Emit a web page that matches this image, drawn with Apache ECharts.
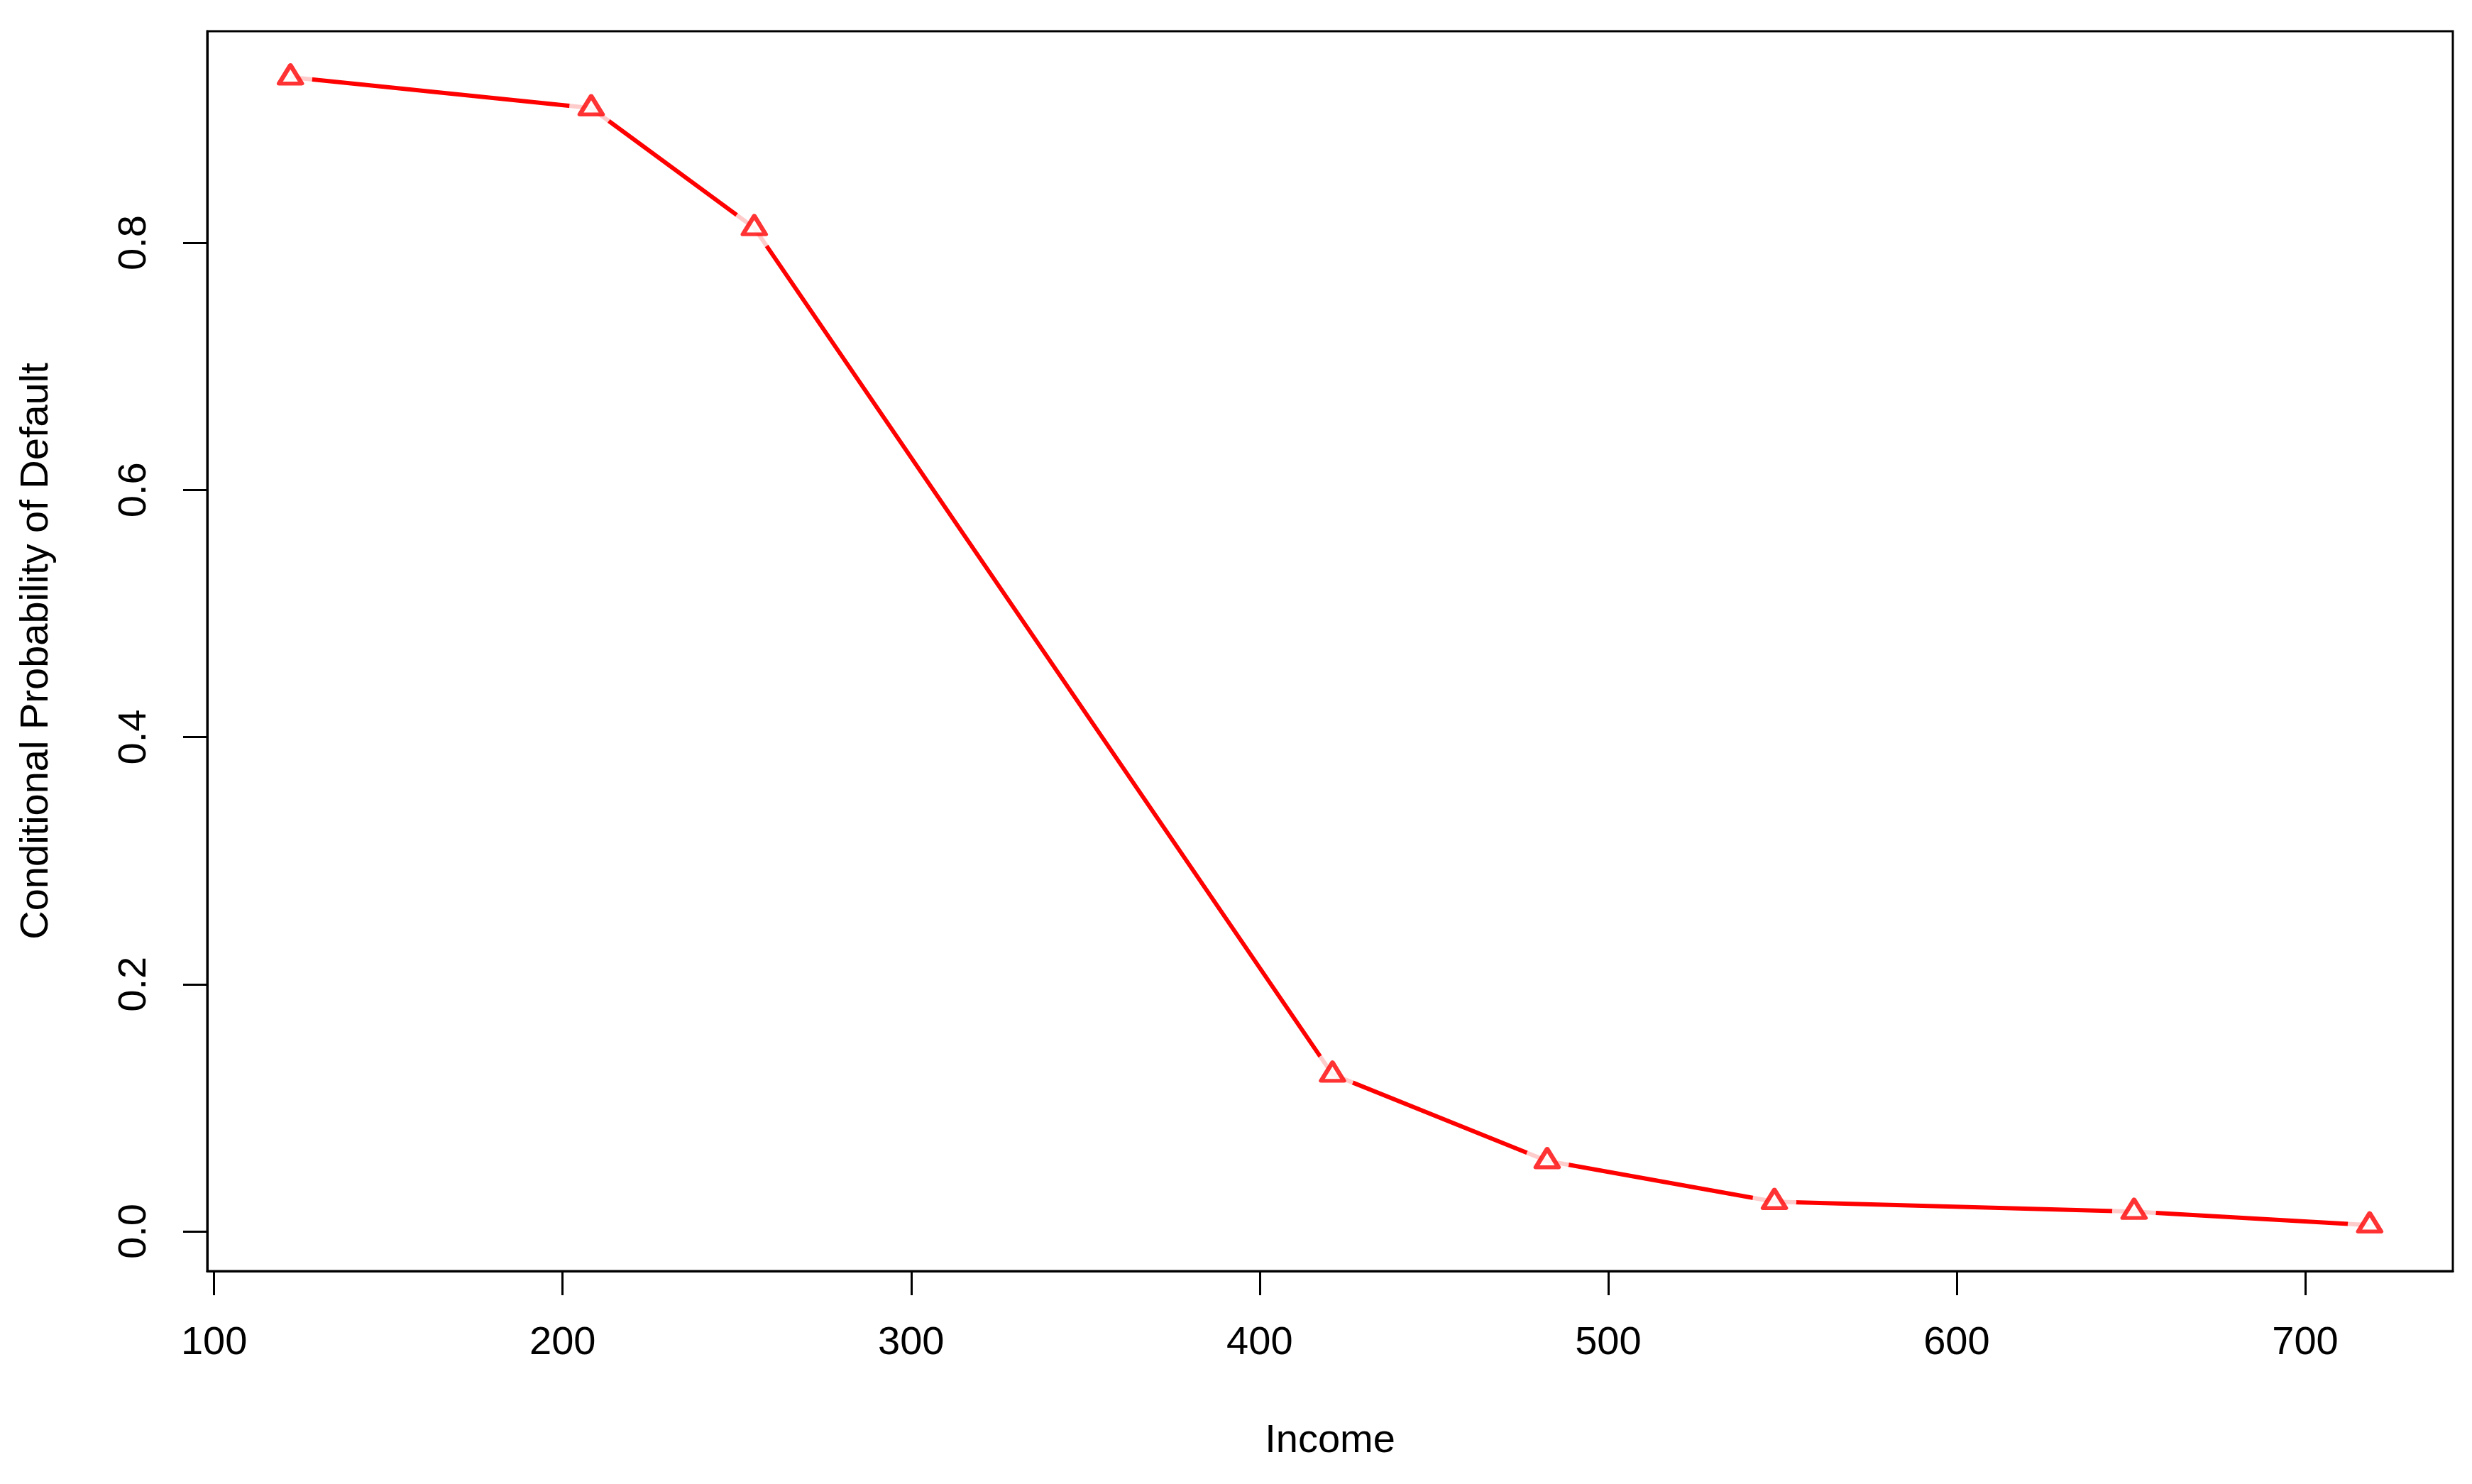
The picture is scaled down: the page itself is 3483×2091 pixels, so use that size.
<!DOCTYPE html>
<html>
<head>
<meta charset="utf-8">
<title>Conditional Probability of Default</title>
<script src="https://cdn.jsdelivr.net/npm/echarts@6/dist/echarts.min.js"></script>
<style>
  html, body { margin: 0; padding: 0; background: #fff; }
  #chart { width: 3483px; height: 2091px; }
</style>
</head>
<body>
<div id="chart"></div>
<script>
// values
const incomeValues = [121.9, 208.2, 255.0, 420.9, 482.5, 547.7, 650.9, 718.5];
const defaultProb = [0.934, 0.909, 0.812, 0.127, 0.057, 0.024, 0.016, 0.005];
const xTicks = [100, 200, 300, 400, 500, 600, 700];
const yTicks = [0, 0.2, 0.4, 0.6, 0.8];

// R pads the data range by 4% on each side
function padRange (vals) {
    const lo = Math.min(...vals), hi = Math.max(...vals);
    const d = (hi - lo) * 0.04;
    return [lo - d, hi + d];
}
const xr = padRange(incomeValues);
const yr = padRange(defaultProb);

const points = incomeValues.map((x, i) => [x, defaultProb[i]]);

const font = 'Liberation Sans, Arial, sans-serif';
const axisCommon = {
    axisLine: { show: true, onZero: false, lineStyle: { color: '#000', width: 3 } },
    axisTick: { show: true, inside: false, length: 34, lineStyle: { color: '#000', width: 3 } },
    splitLine: { show: false },
    nameLocation: 'middle',
    nameGap: 212,
    nameTextStyle: { fontFamily: font, fontSize: 56, color: '#000' }
};

const chart = echarts.init(document.getElementById('chart'));
chart.setOption({
    animation: false,
    backgroundColor: '#fff',
    grid: {
        left: 292, right: 27, top: 44, bottom: 300,
        show: true, borderColor: '#000', borderWidth: 3,
        containLabel: false, outerBoundsMode: 'none'
    },
    xAxis: Object.assign({}, axisCommon, {
        type: 'value',
        min: xr[0], max: xr[1],
        name: 'Income',
        axisTick: Object.assign({}, axisCommon.axisTick, { customValues: xTicks }),
        axisLabel: {
            customValues: xTicks, margin: 74,
            fontFamily: font, fontSize: 56, color: '#000'
        }
    }),
    yAxis: Object.assign({}, axisCommon, {
        type: 'value',
        min: yr[0], max: yr[1],
        name: 'Conditional Probability of Default',
        axisTick: Object.assign({}, axisCommon.axisTick, { customValues: yTicks }),
        axisLabel: {
            customValues: yTicks, margin: 74, rotate: 90,
            fontFamily: font, fontSize: 56, color: '#000',
            formatter: v => v.toFixed(1)
        }
    }),
    series: [
        {
            type: 'line', data: points, z: 2,
            symbol: 'none',
            lineStyle: { color: '#ff0000', width: 6 }
        },
        {
            // gaps around the points, like type = "b"
            type: 'scatter', data: points, z: 3,
            symbol: 'circle', symbolSize: 62,
            itemStyle: { color: '#fff' },
            silent: true
        },
        {
            type: 'scatter', data: points, z: 4,
            symbol: 'triangle', symbolSize: [32, 26], symbolOffset: [0, -4],
            itemStyle: { color: '#fff', borderColor: '#ff0000', borderWidth: 6, borderJoin: 'round' }
        }
    ]
});
</script>
</body>
</html>
